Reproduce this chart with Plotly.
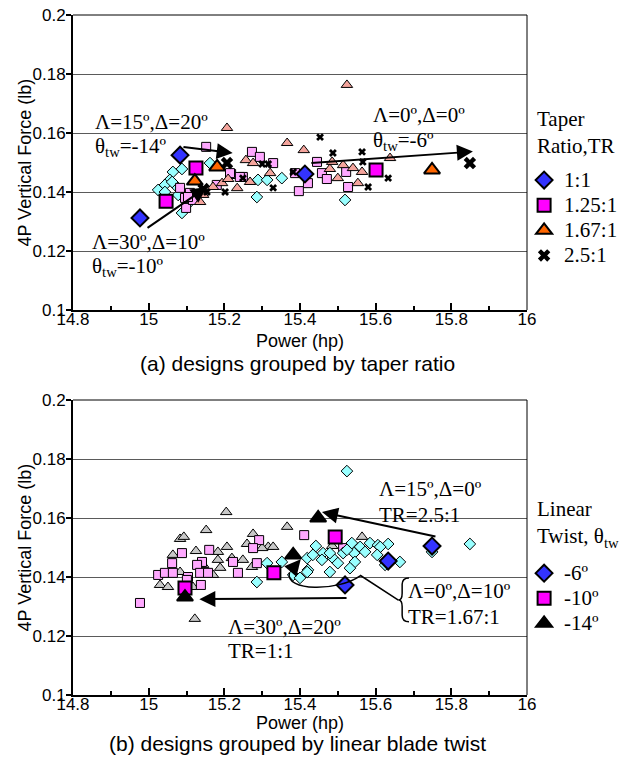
import plotly.graph_objects as go

# ---------------- data: (a) grouped by taper ratio ----------------
a_tr11_x = [15.162, 15.064, 15.088, 15.056, 15.043, 15.025, 15.043, 15.075, 15.078, 15.286, 15.289, 15.313, 15.352, 15.101, 15.088, 15.519, 15.062]
a_tr11_y = [0.1498, 0.1468, 0.1478, 0.1441, 0.1424, 0.1407, 0.1400, 0.1417, 0.1390, 0.1383, 0.1441, 0.1441, 0.1447, 0.1356, 0.1329, 0.1373, 0.1434]
a_tr125_x = [15.152, 15.273, 15.294, 15.329, 15.218, 15.249, 15.083, 15.109, 15.096, 15.099, 15.117, 15.180, 15.215, 15.241, 15.445, 15.458, 15.471, 15.421, 15.397, 15.522, 15.527, 15.387, 15.104]
a_tr125_y = [0.1553, 0.1536, 0.1519, 0.1498, 0.1461, 0.1451, 0.1414, 0.1397, 0.1380, 0.1346, 0.1373, 0.1424, 0.1464, 0.1451, 0.1502, 0.1464, 0.1444, 0.1430, 0.1403, 0.1468, 0.1417, 0.1464, 0.1383]
a_tr167_x = [15.207, 15.366, 15.410, 15.524, 15.485, 15.514, 15.479, 15.540, 15.564, 15.500, 15.553, 15.638, 15.257, 15.276, 15.321, 15.194, 15.234, 15.268, 15.210, 15.170, 15.136, 15.144]
a_tr167_y = [0.1617, 0.1566, 0.1542, 0.1763, 0.1502, 0.1491, 0.1478, 0.1481, 0.1468, 0.1447, 0.1430, 0.1515, 0.1508, 0.1498, 0.1464, 0.1430, 0.1413, 0.1434, 0.1444, 0.1417, 0.1366, 0.1390]
a_tr25_x = [15.453, 15.487, 15.564, 15.633, 15.580, 15.382, 15.566, 15.300, 15.316, 15.249, 15.329, 15.202, 15.154]
a_tr25_y = [0.1586, 0.1532, 0.1536, 0.1447, 0.1417, 0.1468, 0.1502, 0.1495, 0.1495, 0.1447, 0.1414, 0.1400, 0.1400]

a_big11_x = [15.083, 14.977, 15.413]
a_big11_y = [0.1525, 0.1312, 0.1461]
a_big125_x = [15.125, 15.046, 15.601]
a_big125_y = [0.1481, 0.1369, 0.1475]
a_big167_x = [15.181, 15.122, 15.749]
a_big167_y = [0.1485, 0.1437, 0.1475]
a_big25_x = [15.207, 15.849, 15.145]
a_big25_y = [0.1498, 0.1498, 0.1410]

# ---------------- data: (b) grouped by linear twist ----------------
b_tw6_x = [15.524, 15.849, 15.442, 15.461, 15.537, 15.559, 15.585, 15.606, 15.633, 15.514, 15.543, 15.572, 15.749, 15.487, 15.419, 15.434, 15.479, 15.524, 15.612, 15.458, 15.500, 15.545, 15.604, 15.421, 15.382, 15.352, 15.313, 15.286, 15.419, 15.400, 15.479, 15.532, 15.625, 15.664]
b_tw6_y = [0.1759, 0.1512, 0.1505, 0.1481, 0.1515, 0.1502, 0.1515, 0.1508, 0.1512, 0.1481, 0.1481, 0.1485, 0.1485, 0.1464, 0.1464, 0.1475, 0.1481, 0.1492, 0.1502, 0.1458, 0.1447, 0.1451, 0.1475, 0.1424, 0.1407, 0.1451, 0.1447, 0.1383, 0.1417, 0.1397, 0.1417, 0.1430, 0.1441, 0.1451]
b_tw10_x = [15.292, 15.276, 15.088, 15.160, 15.062, 15.141, 15.128, 15.411, 15.223, 15.236, 15.286, 15.025, 15.043, 15.064, 15.136, 15.157, 15.104, 14.977, 15.101, 15.138, 15.514]
b_tw10_y = [0.1525, 0.1498, 0.1481, 0.1492, 0.1447, 0.1451, 0.1441, 0.1542, 0.1451, 0.1414, 0.1447, 0.1407, 0.1414, 0.1414, 0.1414, 0.1414, 0.1400, 0.1312, 0.1390, 0.1373, 0.1498]
b_tw14_x = [15.205, 15.152, 15.366, 15.083, 15.093, 15.276, 15.260, 15.207, 15.125, 15.183, 15.316, 15.329, 15.300, 15.064, 15.183, 15.220, 15.249, 15.273, 15.144, 15.083, 15.189, 15.030, 15.051, 15.122, 15.117, 15.170, 15.564, 15.485]
b_tw14_y = [0.1620, 0.1559, 0.1570, 0.1529, 0.1536, 0.1546, 0.1512, 0.1502, 0.1488, 0.1485, 0.1502, 0.1502, 0.1498, 0.1475, 0.1458, 0.1464, 0.1458, 0.1434, 0.1441, 0.1417, 0.1431, 0.1373, 0.1366, 0.1258, 0.1366, 0.1407, 0.1536, 0.1505]

b_big6_x = [15.749, 15.633, 15.519]
b_big6_y = [0.1505, 0.1454, 0.1373]
b_big10_x = [15.493, 15.331, 15.096]
b_big10_y = [0.1536, 0.1414, 0.1363]
b_big14_x = [15.448, 15.382, 15.096]
b_big14_y = [0.1600, 0.1475, 0.1332]

a_legend = ["1:1", "1.25:1", "1.67:1", "2.5:1"]
b_legend = ["-6º", "-10º", "-14º"]
x_ticks = [14.8, 15.0, 15.2, 15.4, 15.6, 15.8, 16.0]
x_ticktext = ["14.8", "15", "15.2", "15.4", "15.6", "15.8", "16"]
y_ticks = [0.10, 0.12, 0.14, 0.16, 0.18, 0.20]
y_ticktext = ["0.1", "0.12", "0.14", "0.16", "0.18", "0.2"]

SANS = "Liberation Sans, Arial, sans-serif"
SERIF = "Liberation Serif, Times New Roman, serif"
SERIF_SIZE = 21

CYAN = "#99FFFF"
PINK = "#FFA8FF"
SALMON = "#F4A49C"
GRAY = "#C8C8C8"
BLUE = "#3333FF"
MAGENTA = "#FF00FF"
ORANGE = "#FF6600"

fig = go.Figure()

def small(x, y, sym, color, size, xa, ya):
    if sym == "x":
        mk = dict(symbol="x", size=size, color="black", line=dict(width=0))
    else:
        mk = dict(symbol=sym, size=size, color=color, line=dict(color="black", width=1))
    fig.add_trace(go.Scatter(x=x, y=y, mode="markers", marker=mk, xaxis=xa, yaxis=ya,
                             showlegend=False, hoverinfo="skip"))

def big(x, y, sym, color, size, xa, ya, name, legend):
    if sym == "x":
        mk = dict(symbol="x", size=size, color="black", line=dict(width=0))
    else:
        mk = dict(symbol=sym, size=size, color=color, line=dict(color="black", width=2))
    label = '<span style="font-size:%dpx">%s</span>' % (SERIF_SIZE, name)
    fig.add_trace(go.Scatter(x=x, y=y, mode="markers", marker=mk, xaxis=xa, yaxis=ya,
                             name=label, legend=legend, showlegend=True, hoverinfo="skip"))

# (a)
small(a_tr11_x, a_tr11_y, "diamond", CYAN, 9, "x", "y")
small(a_tr125_x, a_tr125_y, "square", PINK, 9, "x", "y")
small(a_tr167_x, a_tr167_y, "triangle-up", SALMON, 10, "x", "y")
small(a_tr25_x, a_tr25_y, "x", "black", 7, "x", "y")
big(a_big11_x, a_big11_y, "diamond", BLUE, 13, "x", "y", a_legend[0], "legend")
big(a_big125_x, a_big125_y, "square", MAGENTA, 13, "x", "y", a_legend[1], "legend")
big(a_big167_x, a_big167_y, "triangle-up", ORANGE, 14, "x", "y", a_legend[2], "legend")
big(a_big25_x, a_big25_y, "x", "black", 11, "x", "y", a_legend[3], "legend")

# (b)
small(b_tw14_x, b_tw14_y, "triangle-up", GRAY, 10, "x2", "y2")
small(b_tw10_x, b_tw10_y, "square", PINK, 9, "x2", "y2")
small(b_tw6_x, b_tw6_y, "diamond", CYAN, 9, "x2", "y2")
big(b_big6_x, b_big6_y, "diamond", BLUE, 13, "x2", "y2", b_legend[0], "legend2")
big(b_big10_x, b_big10_y, "square", MAGENTA, 13, "x2", "y2", b_legend[1], "legend2")
big(b_big14_x, b_big14_y, "triangle-up", "black", 14, "x2", "y2", b_legend[2], "legend2")

def xaxis(anchor):
    return dict(domain=[0, 1], anchor=anchor, range=[14.8, 16.0], tickvals=x_ticks, ticktext=x_ticktext,
                ticks="inside", ticklen=7, tickwidth=1.5, tickcolor="black", ticklabelstandoff=-7,
                minor=dict(dtick=0.1, tick0=14.8, ticks="inside", ticklen=4, tickcolor="black", showgrid=False),
                showgrid=False, zeroline=False, showline=True, linecolor="black", linewidth=2,
                tickfont=dict(family=SANS, size=17, color="black"), fixedrange=True)

def yaxis(anchor, dom):
    return dict(domain=dom, anchor=anchor, range=[0.1, 0.2], tickvals=y_ticks, ticktext=y_ticktext,
                ticks="outside", ticklen=5, tickwidth=1.5, tickcolor="black", ticklabelstandoff=-3,
                showgrid=True, gridcolor="#5a5a5a", gridwidth=1, zeroline=False,
                showline=True, linecolor="black", linewidth=2,
                tickfont=dict(family=SANS, size=17, color="black"), fixedrange=True)

top_dom = [385 / 680, 1.0]
bot_dom = [0.0, 295 / 680]

annotations = []
def txt(x, y, text, xr, yr, size=SERIF_SIZE, family=SERIF, **kw):
    d = dict(x=x, y=y, text=text, xref=xr, yref=yr, showarrow=False, align="left",
             font=dict(family=family, size=size, color="black"), xanchor="left", yanchor="middle")
    d.update(kw)
    annotations.append(d)

def arrow(x0, y0, x1, y1, xr, yr):
    annotations.append(dict(x=x1, y=y1, ax=x0, ay=y0, xref=xr, yref=yr, axref=xr, ayref=yr,
                            text="", showarrow=True, arrowhead=2, arrowsize=1.6, arrowwidth=2,
                            arrowcolor="black"))

# (a) annotations
txt(14.852, 0.1637, "Λ=15º,Δ=20º", "x", "y")
txt(14.852, 0.1553, "θ<sub>tw</sub>=-14º", "x", "y")
txt(15.588, 0.1661, "Λ=0º,Δ=0º", "x", "y")
txt(15.588, 0.1572, "θ<sub>tw</sub>=-6º", "x", "y")
txt(14.846, 0.1232, "Λ=30º,Δ=10º", "x", "y")
txt(14.846, 0.1145, "θ<sub>tw</sub>=-10º", "x", "y")
arrow(15.088, 0.1553, 15.222, 0.1532, "x", "y")
arrow(14.993, 0.1275, 15.154, 0.1417, "x", "y")
arrow(15.426, 0.1498, 15.857, 0.1537, "x", "y")

# (b) annotations
txt(15.604, 0.1697, "Λ=15º,Δ=0º", "x2", "y2")
txt(15.604, 0.1609, "TR=2.5:1", "x2", "y2")
txt(15.681, 0.1353, "Λ=0º,Δ=10º", "x2", "y2")
txt(15.681, 0.1266, "TR=1.67:1", "x2", "y2")
txt(15.204, 0.1232, "Λ=30º,Δ=20º", "x2", "y2")
txt(15.204, 0.1148, "TR=1:1", "x2", "y2")
arrow(15.762, 0.1536, 15.458, 0.1620, "x2", "y2")
arrow(15.527, 0.1329, 15.134, 0.1325, "x2", "y2")
arrow(15.372, 0.1415, 15.402, 0.1460, "x2", "y2")

# legend titles
txt(1.0176, 0.827, "Taper<br>Ratio,TR", "paper", "paper")
txt(1.0176, 0.251, "Linear<br>Twist, θ<sub>tw</sub>", "paper", "paper")

# axis titles and captions
for yc, cap, ytitle, ycap in [(0.783, "(a) designs grouped by taper ratio", 0.520, 0.488),
                              (0.217, "(b) designs grouped by linear blade twist", -0.041, -0.0715)]:
    annotations.append(dict(x=-0.1057, y=yc, xref="paper", yref="paper", text="4P Vertical Force (lb)",
                            textangle=-90, showarrow=False, xanchor="center", yanchor="middle",
                            font=dict(family=SANS, size=18, color="black")))
    annotations.append(dict(x=0.499, y=ytitle, xref="paper", yref="paper", text="Power (hp)",
                            showarrow=False, xanchor="center", yanchor="middle",
                            font=dict(family=SANS, size=18, color="black")))
    annotations.append(dict(x=0.4945, y=ycap, xref="paper", yref="paper", text=cap,
                            showarrow=False, xanchor="center", yanchor="middle",
                            font=dict(family=SANS, size=21, color="black")))

shapes = []
for xr, yr in [("x domain", "y domain"), ("x2 domain", "y2 domain")]:
    shapes.append(dict(type="line", xref=xr, yref=yr, x0=0, x1=1, y0=1, y1=1, line=dict(color="black", width=1)))
    shapes.append(dict(type="line", xref=xr, yref=yr, x0=1, x1=1, y0=0, y1=1, line=dict(color="black", width=1)))

# brace and connector for (b)
shapes.append(dict(type="path", xref="x2", yref="y2",
                   path="M 15.688,0.1397 Q 15.670,0.1397 15.670,0.1375 L 15.670,0.1345 Q 15.670,0.1322 15.660,0.1322 "
                        "Q 15.670,0.1322 15.670,0.1300 L 15.670,0.1270 Q 15.670,0.1248 15.688,0.1248",
                   line=dict(color="black", width=1.5)))
shapes.append(dict(type="path", xref="x2", yref="y2",
                   path="M 15.660,0.1322 L 15.560,0.1405 C 15.50,0.1350 15.36,0.1350 15.372,0.1415",
                   line=dict(color="black", width=1.5)))

legend_common = dict(xanchor="left", yanchor="top", bgcolor="rgba(0,0,0,0)",
                     font=dict(family=SERIF, size=17, color="black"), tracegroupgap=0, itemsizing="trace")

fig.update_layout(
    width=625, height=757,
    margin=dict(l=73, r=98, t=15, b=62, autoexpand=False),
    paper_bgcolor="white", plot_bgcolor="white",
    xaxis=xaxis("y"), yaxis=yaxis("x", top_dom),
    xaxis2=xaxis("y2"), yaxis2=yaxis("x2", bot_dom),
    annotations=annotations, shapes=shapes,
    legend=dict(x=0.9936, y=0.783, **legend_common),
    legend2=dict(x=0.9936, y=0.205, **legend_common),
    showlegend=True,
)

fig.write_html("out.html")
